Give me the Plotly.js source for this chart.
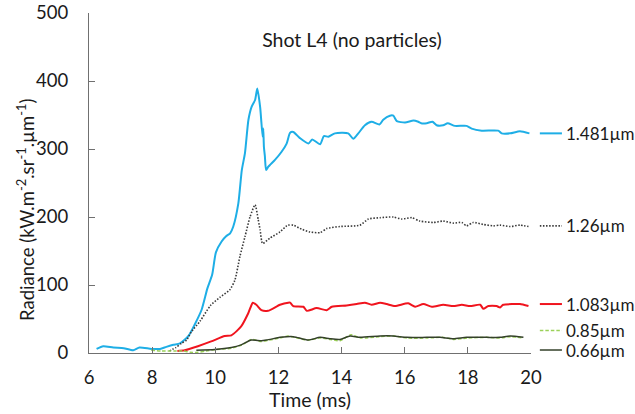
<!DOCTYPE html>
<html>
<head>
<meta charset="utf-8">
<script src="https://cdn.plot.ly/plotly-3.0.1.min.js"></script>
<style>html,body{margin:0;padding:0;background:#fff;}#chart{width:635px;height:414px;}</style>
</head>
<body>
<div id="chart"></div>
<script>
// 1.481 µm
const t1481 = [6.24,6.45,6.77,7.1,7.4,7.6,7.98,8.25,8.45,8.67,8.88,9.15,9.35,9.57,9.75,9.9,10.02,10.2,10.35,10.47,10.57,10.73,10.84,10.94,11.05,11.15,11.26,11.33,11.42,11.5,11.52,11.54,11.57,11.61,11.68,11.89,12.1,12.26,12.37,12.47,12.68,12.95,13.07,13.32,13.44,13.58,13.79,14.21,14.37,14.53,14.74,14.95,15.2,15.32,15.53,15.64,15.75,16.01,16.28,16.43,16.52,16.7,16.88,17.01,17.22,17.36,17.59,17.96,18.12,18.44,18.96,19.07,19.34,19.65,19.95];
const v1481 = [6,10,8,7,4,8,6,6,9,12,14,25,42,64,95,115,148,164,172,176,186,220,269,294,343,362,372,389,362,318,330,303,290,269,274,284,296,308,324,325,316,308,314,307,319,318,323,323,315,323,335,340,336,343,349,349,341,339,342,340,338,338,340,335,335,338,334,334,330,327,327,323,323,326,323];
// 1.26 µm
const t126 = [8.55,8.75,8.92,9.09,9.24,9.52,9.85,10.15,10.46,10.62,10.78,10.94,11.1,11.26,11.36,11.42,11.5,11.73,12.05,12.26,12.31,12.47,12.74,13.0,13.32,13.53,13.95,14.58,14.85,15.22,15.64,15.91,16.22,16.48,16.91,17.22,17.54,17.81,17.96,18.17,18.49,18.81,19.02,19.34,19.65,19.92];
const v126 = [3,8,14,19,31,47,70,82,93,107,142,171,200,218,196,181,161,169,178,187,188,188,182,178,177,183,186,188,197,199,200,197,199,194,192,194,191,192,187,192,189,187,188,186,188,186];
// 1.083 µm
const t1083 = [8.8,9.03,9.45,9.87,10.3,10.51,10.82,11.04,11.19,11.3,11.46,11.67,12.05,12.31,12.37,12.47,12.79,12.9,13.21,13.53,13.69,14.16,14.48,14.74,14.95,15.22,15.43,15.69,16.11,16.33,16.59,16.86,17.22,17.54,17.81,18.07,18.39,18.49,18.65,18.91,19.02,19.12,19.44,19.65,19.92];
const v1083 = [3,4,10,17,25,26,39,58,74,71,63,62,71,74,74,69,68,62,66,63,68,70,72,74,71,74,72,69,73,68,72,68,71,69,71,69,71,65,69,69,67,71,72,72,69];
// 0.85 µm
const t085 = [7.97,8.3,8.7,9.0,9.2,9.45,9.7,10.0,10.5,10.85,11.15,11.45,11.7,12.05,12.3,12.5,12.95,13.3,13.65,13.95,14.3,14.6,15.2,15.64,16.1,16.7,17.2,17.54,18.0,18.6,19.0,19.35,19.76];
const v085 = [4,3,3,3,1,1,3,5,7,12,20,17,19,22,25,23,19,22,20,18,27,22,24,25,22,22,23,20,22,23,22,24,22];
// 0.66 µm
const t066 = [9.4,9.98,10.51,10.82,11.14,11.46,11.62,12.05,12.26,12.47,12.58,12.95,13.32,13.63,13.95,14.27,14.58,15.22,15.64,16.06,16.7,17.12,17.54,17.96,18.59,19.02,19.34,19.76];
const v066 = [4,5,8,12,19,18,19,23,24,24,23,19,23,21,20,25,23,25,25,23,23,23,21,23,23,23,25,23];

const seriesNames = ['1.481µm','1.26µm','1.083µm','0.85µm','0.66µm'];
const labelY = [323,187,72,33,4.4];
const xTicks = [6,8,10,12,14,16,18,20];
const yTicks = [0,100,200,300,400,500];

const styles = [
  {color:'#1EAEE6', width:2, dash:'solid'},
  {color:'#3a3a3a', width:1.6, dash:'1.5px,1.6px'},
  {color:'#F0141E', width:2, dash:'solid'},
  {color:'#9BD159', width:1.5, dash:'3.5px,2px'},
  {color:'#34412a', width:1.5, dash:'solid'}
];
const xs = [t1481,t126,t1083,t085,t066];
const ys = [v1481,v126,v1083,v085,v066];
const order = [0,1,2,3,4];
const traces = order.map(i => ({
  x: xs[i], y: ys[i], type:'scatter', mode:'lines', name: seriesNames[i],
  line:{color:styles[i].color, width:styles[i].width, dash:styles[i].dash, shape:'spline', smoothing:0.6},
  hoverinfo:'skip'
}));

const FONT = 'Lato, "Open Sans", sans-serif';
const TXT = '#1a1a1a';
const shapes = [], annotations = [];
seriesNames.forEach((n,i) => {
  shapes.push({type:'line', xref:'paper', yref:'paper', x0:1.02, x1:1.07, y0:labelY[i]/500, y1:labelY[i]/500,
    line:{color:styles[i].color, width:styles[i].width, dash:styles[i].dash}});
  annotations.push({xref:'paper', yref:'paper', x:1.074, y:labelY[i]/500, xanchor:'left', yanchor:'middle',
    text:n, showarrow:false, font:{family:FONT, size:17, color:TXT}});
});
// y axis title (placed lower than the plot centre, as in the reference)
annotations.push({xref:'paper', yref:'paper', x:-0.145, y:0.4235, xanchor:'center', yanchor:'middle', textangle:-90,
  text:'Radiance (kW.m<sup>-2</sup>.sr<sup>-1</sup>.µm<sup>-1</sup>)', showarrow:false, font:{family:FONT, size:18.5, color:TXT}});

const layout = {
  width:635, height:414,
  margin:{l:89, r:104, t:13, b:61},
  paper_bgcolor:'#fff', plot_bgcolor:'#fff',
  showlegend:false,
  font:{family:FONT, size:19, color:TXT},
  title:{text:'Shot L4 (no particles)', font:{family:FONT, size:19.5, color:TXT},
    xref:'paper', x:0.595, xanchor:'center', yref:'container', y:1-40/414, yanchor:'middle'},
  xaxis:{range:[6,20], tickvals:xTicks, ticktext:xTicks.map(String), ticks:'inside', ticklen:6, tickcolor:'#707070',
    showline:true, linecolor:'#707070', linewidth:1, showgrid:false, zeroline:false,
    ticklabelstandoff:8, tickfont:{family:FONT, size:18.5, color:TXT},
    title:{text:'Time (ms)', standoff:4, font:{family:FONT, size:19.5, color:TXT}}},
  yaxis:{range:[0,500], tickvals:yTicks, ticktext:yTicks.map(String), ticks:'inside', ticklen:6, tickcolor:'#707070',
    showline:true, linecolor:'#707070', linewidth:1, showgrid:false, zeroline:false,
    ticklabelstandoff:16, tickfont:{family:FONT, size:18.5, color:TXT}},
  shapes:shapes, annotations:annotations
};
Plotly.newPlot('chart', traces, layout, {displayModeBar:false, staticPlot:true});
</script>
</body>
</html>
